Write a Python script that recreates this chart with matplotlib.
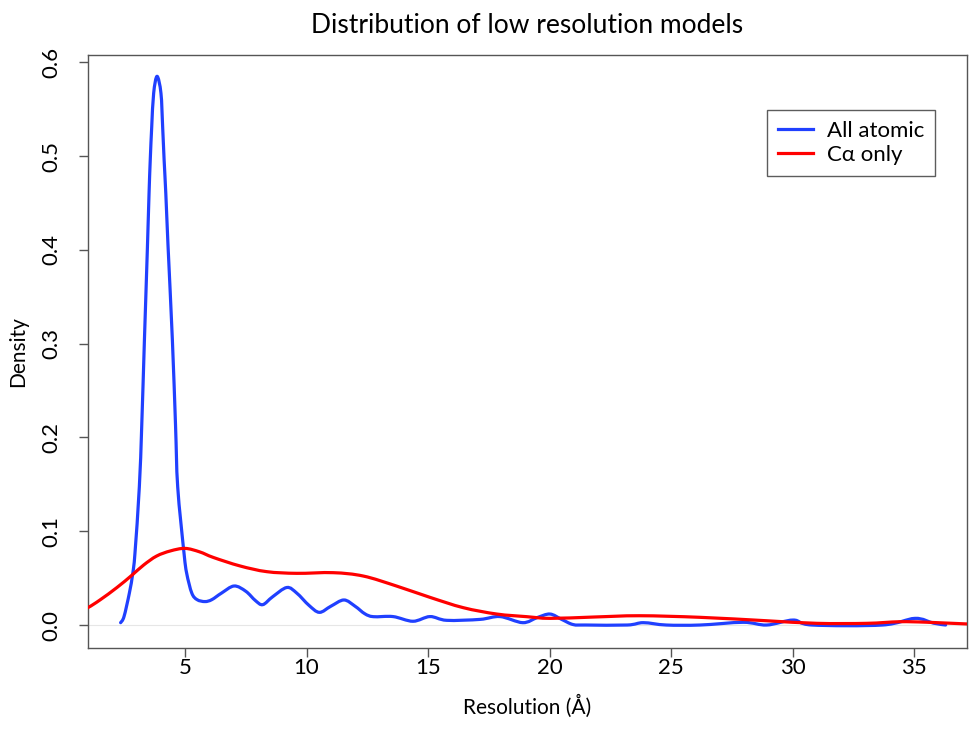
import matplotlib
matplotlib.use("Agg")
import matplotlib.pyplot as plt
from matplotlib.path import Path
from matplotlib.patches import PathPatch
from matplotlib.lines import Line2D

plt.rcParams['font.family'] = ['Lato', 'DejaVu Sans']

# density curves (resolution in Angstrom, density)
atomic_x = [2.35, 2.49, 2.71, 2.85, 2.94, 3.12, 3.22, 3.33, 3.45, 3.52, 3.57, 3.63,
            3.71, 3.85, 4.01, 4.08, 4.14, 4.21, 4.30, 4.48, 4.61, 4.70, 4.96, 5.07,
            5.28, 5.5, 5.82, 6.1, 6.5, 7.02, 7.5, 7.9, 8.2, 8.6, 9.19, 9.6, 10.1,
            10.53, 11.0, 11.54, 12.0, 12.4, 12.75, 13.56, 14.38, 15.08, 15.77,
            17.14, 17.96, 18.9, 19.5, 20.02, 20.5, 20.97, 21.5, 23.2, 23.86, 24.8,
            26.2, 27.97, 28.94, 30.03, 30.8, 33.7, 35.04, 35.8, 36.3]
atomic_y = [0.0025, 0.009, 0.034, 0.055, 0.0764, 0.147, 0.213, 0.304, 0.400, 0.460,
            0.496, 0.531, 0.567, 0.585, 0.567, 0.531, 0.496, 0.460, 0.405, 0.304,
            0.213, 0.147, 0.0764, 0.055, 0.034, 0.027, 0.025, 0.027, 0.034, 0.0416,
            0.036, 0.026, 0.0217, 0.030, 0.040, 0.034, 0.021, 0.0135, 0.020, 0.0267,
            0.020, 0.012, 0.0089, 0.009, 0.004, 0.009, 0.005, 0.006, 0.009, 0.0025,
            0.008, 0.0117, 0.006, 0.0005, 0.0, 0.0, 0.0025, 0.0, 0.0, 0.0029, 0.0,
            0.0053, 0.0, 0.0, 0.0071, 0.002, 0.0]

calpha_x = [0.5, 1.0, 1.5, 2.2, 2.81, 3.3, 3.83, 4.4, 5.0, 5.6, 6.17, 7.26, 8.36,
            9.6, 11.1, 12.34, 13.7, 15.08, 16.45, 17.83, 19.06, 20.02, 21.8, 23.7,
            26.2, 28.9, 31.0, 33.05, 34.4, 35.5, 37.3, 38.0]
calpha_y = [0.013, 0.0185, 0.0267, 0.040, 0.053, 0.064, 0.0735, 0.079, 0.0817,
            0.078, 0.072, 0.063, 0.0569, 0.0551, 0.0558, 0.0522, 0.0416, 0.0295,
            0.0185, 0.0117, 0.0089, 0.0071, 0.0085, 0.0099, 0.0082, 0.0046, 0.0018,
            0.0018, 0.0035, 0.0030, 0.001, 0.0008]

x_ticks = [5, 10, 15, 20, 25, 30, 35]
y_ticks = [0.0, 0.1, 0.2, 0.3, 0.4, 0.5, 0.6]
labels = ["All atomic", "C\u03b1 only"]
colors = ["#2040ff", "#ff0000"]


def smooth_path(xs, ys):
    # Catmull-Rom style bezier through the read points
    pts = list(zip(xs, ys))
    verts = [pts[0]]
    codes = [Path.MOVETO]
    n = len(pts)
    for i in range(n - 1):
        p0 = pts[i - 1] if i > 0 else pts[i]
        p1 = pts[i]
        p2 = pts[i + 1]
        p3 = pts[i + 2] if i + 2 < n else pts[i + 1]
        c1 = (p1[0] + (p2[0] - p0[0]) / 6, p1[1] + (p2[1] - p0[1]) / 6)
        c2 = (p2[0] - (p3[0] - p1[0]) / 6, p2[1] - (p3[1] - p1[1]) / 6)
        verts += [c1, c2, p2]
        codes += [Path.CURVE4] * 3
    return Path(verts, codes)


fig = plt.figure(figsize=(9.69, 7.29), dpi=100)
ax = fig.add_axes([88 / 969, 1 - 648 / 729, 879 / 969, 593 / 729])

ax.axhline(0, color="#e6e6e6", lw=0.8, zorder=1)
for xs, ys, c in [(atomic_x, atomic_y, colors[0]), (calpha_x, calpha_y, colors[1])]:
    ax.add_patch(PathPatch(smooth_path(xs, ys), fill=False, edgecolor=c, lw=2.3,
                           joinstyle="round", capstyle="round", zorder=3))

ax.set_xlim(1.008, 37.18)
ax.set_ylim(-0.0245, 0.6077)
ax.set_xticks(x_ticks)
ax.set_yticks(y_ticks)
ax.set_yticklabels([f"{v:.1f}" for v in y_ticks], rotation=90, va="center")

for s in ax.spines.values():
    s.set_color("#555555")
    s.set_linewidth(1.0)
ax.tick_params(direction="out", length=6.5, width=1.0, color="#555555",
               labelsize=16)
ax.tick_params(axis="x", pad=0.5)
ax.tick_params(axis="y", pad=13)

ax.set_xlabel("Resolution (\u00c5)", fontsize=15, labelpad=12)
ax.set_ylabel("Density", fontsize=15, labelpad=9)
ax.set_title("Distribution of low resolution models", fontsize=19, pad=16)

handles = [Line2D([], [], color=c, lw=2.3) for c in colors]
leg = ax.legend(handles, labels, loc="upper right", bbox_to_anchor=(0.9636, 0.907),
                borderaxespad=0, fancybox=False, fontsize=16, handlelength=1.6,
                handletextpad=0.6, labelspacing=0.15, borderpad=0.5)
leg.get_frame().set_edgecolor("#333333")
leg.get_frame().set_linewidth(1.0)

fig.savefig("out.png", dpi=100)
